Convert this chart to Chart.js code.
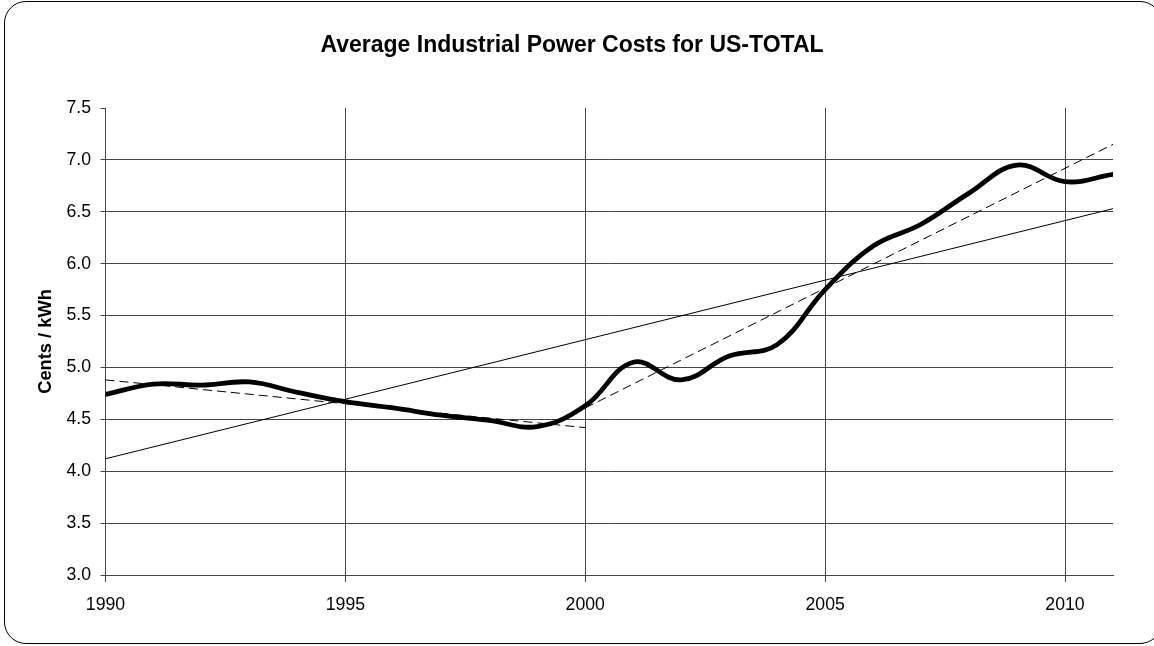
<!DOCTYPE html>
<html>
<head>
<meta charset="utf-8">
<script src="https://cdn.jsdelivr.net/npm/chart.js@4"></script>
<style>
  html, body { margin: 0; padding: 0; background: #fff; overflow: hidden; width: 1154px; height: 646px; }
  #frame { position: absolute; left: 4px; top: 1px; width: 1158px; height: 643px; border: 1px solid #000; border-radius: 22px; box-sizing: border-box; }
  canvas { position: absolute; left: 0; top: 0; }
</style>
</head>
<body>
<div id="frame"></div>
<canvas id="c" width="1154" height="646"></canvas>
<script>
const titleText = 'Average Industrial Power Costs for US-TOTAL';
const yAxisTitle = 'Cents / kWh';
const years = [1990, 1991, 1992, 1993, 1994, 1995, 1996, 1997, 1998, 1999, 2000,
               2001, 2002, 2003, 2004, 2005, 2006, 2007, 2008, 2009, 2010, 2011];
const costs = [4.74, 4.84, 4.83, 4.86, 4.76, 4.67, 4.61, 4.54, 4.49, 4.43, 4.63,
               5.05, 4.88, 5.11, 5.22, 5.75, 6.17, 6.38, 6.68, 6.95, 6.79, 6.86];
const trendAllX = [1990, 2011];
const trendAllY = [4.12, 6.53];
const trendEarlyX = [1990, 2000];
const trendEarlyY = [4.88, 4.42];
const trendLateX = [2000, 2011];
const trendLateY = [4.61, 7.15];
const xTicks = [1990, 1995, 2000, 2005, 2010];
const yTicks = [3.0, 3.5, 4.0, 4.5, 5.0, 5.5, 6.0, 6.5, 7.0, 7.5];

const pts = (xs, ys) => xs.map((x, i) => ({ x: x, y: ys[i] }));
const FONT = '"Liberation Sans", Arial, Helvetica, sans-serif';
const GRID = '#444';

new Chart(document.getElementById('c'), {
  type: 'line',
  data: {
    datasets: [
      { data: pts(trendAllX, trendAllY), borderColor: '#000', borderWidth: 1, pointRadius: 0, tension: 0 },
      { data: pts(trendEarlyX, trendEarlyY), borderColor: '#000', borderWidth: 1, borderDash: [9, 5], pointRadius: 0, tension: 0 },
      { data: pts(trendLateX, trendLateY), borderColor: '#000', borderWidth: 1, borderDash: [9, 5], pointRadius: 0, tension: 0 },
      { data: pts(years, costs), borderColor: '#000', borderWidth: 4.8, pointRadius: 0, tension: 0.4, cubicInterpolationMode: 'default', borderCapStyle: 'round', borderJoinStyle: 'round' }
    ]
  },
  options: {
    responsive: false,
    devicePixelRatio: 1,
    animation: false,
    layout: { padding: { left: 31, right: 41, top: 0, bottom: 0 } },
    plugins: {
      legend: { display: false },
      tooltip: { enabled: false },
      title: {
        display: true,
        text: titleText,
        color: '#000',
        font: { family: FONT, size: 23, weight: 'bold', lineHeight: 1.2 },
        padding: { top: 32, bottom: 48.4 }
      }
    },
    scales: {
      x: {
        type: 'linear',
        min: 1990,
        max: 2011,
        afterBuildTicks: (s) => { s.ticks = xTicks.map(v => ({ value: v })); },
        afterFit: (s) => { s.height = 71; },
        ticks: { color: '#000', font: { family: FONT, size: 17.7 }, padding: 12, maxRotation: 0, autoSkip: false, callback: (v) => String(v) },
        grid: { color: GRID, lineWidth: 1, tickLength: 7, tickColor: GRID },
        border: { display: true, color: GRID, width: 1 }
      },
      y: {
        type: 'linear',
        min: 3.0,
        max: 7.5,
        afterBuildTicks: (s) => { s.ticks = yTicks.map(v => ({ value: v })); },
        afterFit: (s) => { s.width = 74.5; },
        ticks: { color: '#000', font: { family: FONT, size: 17.7 }, padding: 9.5, autoSkip: false, callback: (v) => Number(v).toFixed(1) },
        grid: {
          color: (ctx) => (ctx.tick && ctx.tick.value === 7.5) ? 'rgba(0,0,0,0)' : GRID,
          tickColor: GRID,
          lineWidth: 1,
          tickLength: 5
        },
        border: { display: true, color: GRID, width: 1 },
        title: {
          display: true,
          text: yAxisTitle,
          color: '#000',
          font: { family: FONT, size: 18.3, weight: 'bold', lineHeight: 1.2 },
          padding: { top: 3.5, bottom: 0 }
        }
      }
    }
  }
});
</script>
</body>
</html>
